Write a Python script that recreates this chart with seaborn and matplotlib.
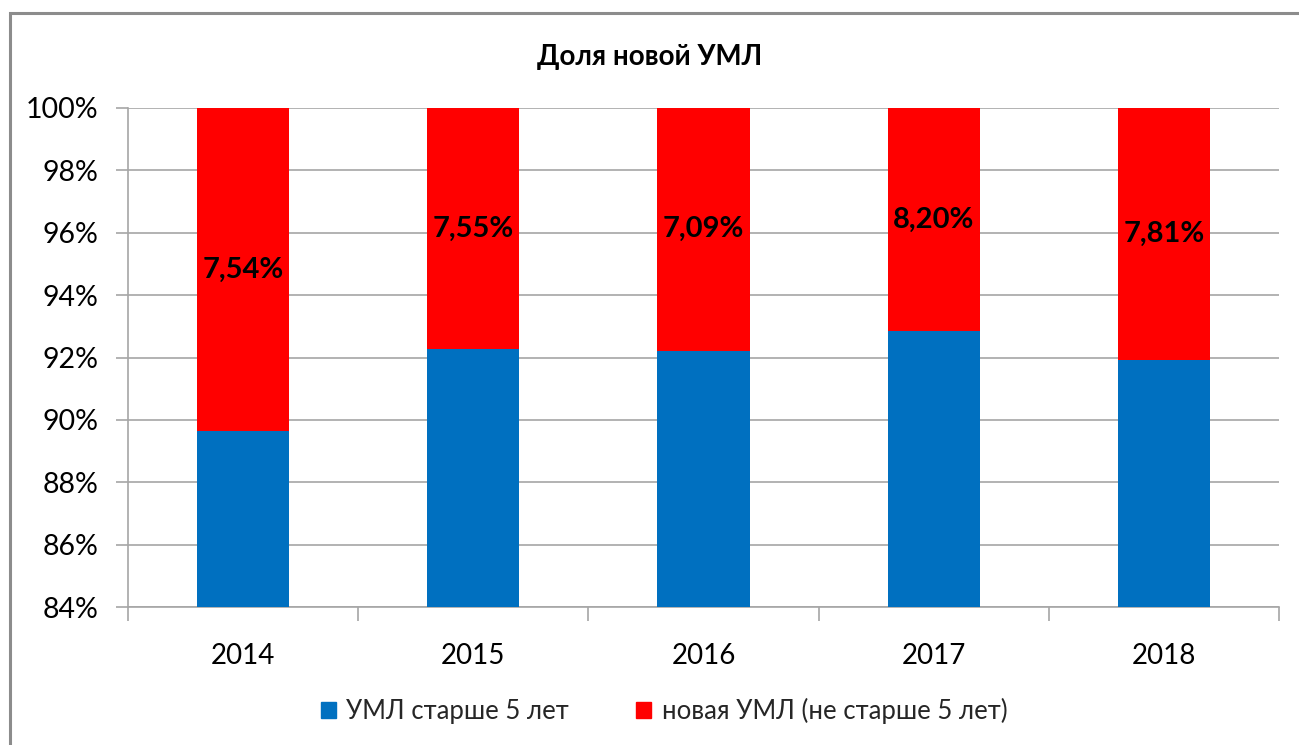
import matplotlib
matplotlib.use("Agg")
import matplotlib.pyplot as plt
import seaborn as sns
import pandas as pd
from matplotlib.patches import Rectangle

years = ["2014", "2015", "2016", "2017", "2018"]
old_share = [89.64, 92.27, 92.22, 92.84, 91.92]   # УМЛ старше 5 лет (%)
total_share = [100, 100, 100, 100, 100]
new_labels = ["7,54%", "7,55%", "7,09%", "8,20%", "7,81%"]
yticks = [84, 86, 88, 90, 92, 94, 96, 98, 100]

title = "Доля новой УМЛ"
series_names = ["УМЛ старше 5 лет", "новая УМЛ (не старше 5 лет)"]
blue = "#0070C0"
red = "#FF0000"

sns.set_theme(style="white")
plt.rcParams["font.family"] = ["Lato", "DejaVu Sans"]

df = pd.DataFrame({"year": years, "old": old_share, "total": total_share})

fig = plt.figure(figsize=(12.99, 7.45), dpi=100)
ax = fig.add_axes([128/1299, 1-607/745, (1279-128)/1299, (607-108)/745])

sns.barplot(data=df, x="year", y="total", color=red, width=0.4, ax=ax,
            saturation=1, zorder=2, edgecolor="none")
sns.barplot(data=df, x="year", y="old", color=blue, width=0.4, ax=ax,
            saturation=1, zorder=3, edgecolor="none")

ax.set_ylim(84, 100)
ax.set_xlim(-0.5, len(years) - 0.5)
ax.set_yticks(yticks)
ax.set_yticklabels([f"{v}%" for v in yticks])
ax.set_xlabel("")
ax.set_ylabel("")
ax.grid(axis="y", color="#a6a6a6", linewidth=1.2, zorder=0)
ax.set_axisbelow(True)

for s in ["top", "right"]:
    ax.spines[s].set_visible(False)
for s in ["left", "bottom"]:
    ax.spines[s].set_color("#a6a6a6")
    ax.spines[s].set_linewidth(1.2)

ax.tick_params(axis="y", which="major", length=9, width=1.2, color="#a6a6a6",
               labelsize=20.5, labelcolor="black", left=True, pad=12)
ax.tick_params(axis="x", which="major", length=0, labelsize=20,
               labelcolor="black", pad=26)
ax.set_xticks([i - 0.5 for i in range(len(years) + 1)], minor=True)
ax.tick_params(axis="x", which="minor", length=10, width=1.2,
               color="#a6a6a6", bottom=True)

for i, (o, lab) in enumerate(zip(old_share, new_labels)):
    ax.text(i, (o + 100) / 2, lab, ha="center", va="center",
            fontsize=21, fontweight="bold", color="black", zorder=5)

fig.text(0.5, 1 - 57/745, title, ha="center", va="center",
         fontsize=20, fontweight="bold", color="black")

handles = [Rectangle((0, 0), 1, 1, color=blue), Rectangle((0, 0), 1, 1, color=red)]
fig.legend(handles, series_names, loc="center", bbox_to_anchor=(664/1299, 1 - 711/745),
           ncol=2, frameon=False, fontsize=18.5, handlelength=0.6, handleheight=0.6,
           handletextpad=0.4, columnspacing=2.6)

border = Rectangle((10/1299, -0.5), 2.0, 1 - 13/745 + 0.5, transform=fig.transFigure,
                   fill=False, edgecolor="#8c8c8c", linewidth=2.2, zorder=10)
fig.patches.append(border)

fig.savefig("out.png", dpi=100, facecolor="white")
